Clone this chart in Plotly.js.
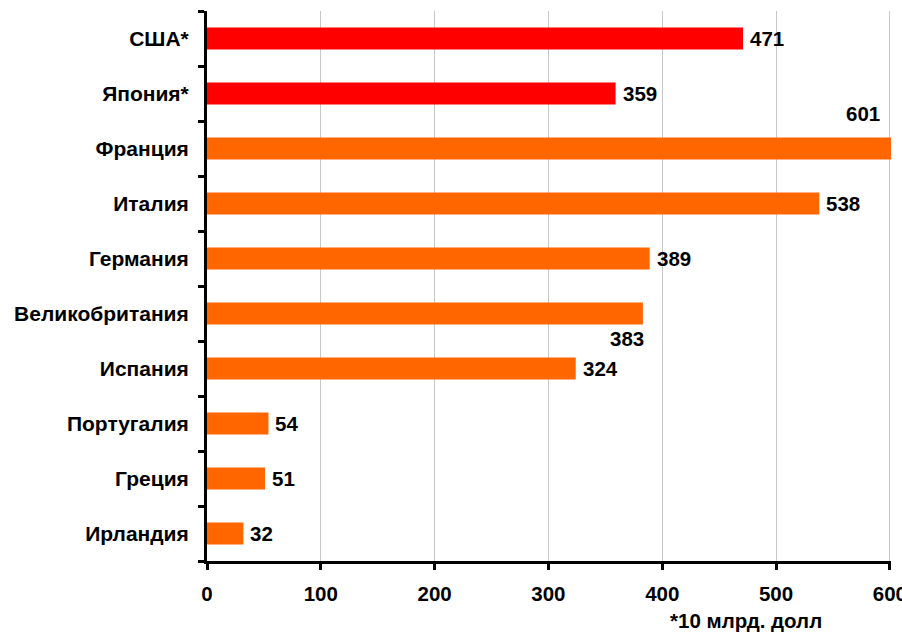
<!DOCTYPE html>
<html>
<head>
<meta charset="utf-8">
<script src="https://cdn.plot.ly/plotly-3.0.1.min.js"></script>
<style>html,body{margin:0;padding:0;background:#fff;}#chart{width:902px;height:633px;}</style>
</head>
<body>
<div id="chart"></div>
<script>
const countries = ["США*", "Япония*", "Франция", "Италия", "Германия", "Великобритания", "Испания", "Португалия", "Греция", "Ирландия"];
const values = [471, 359, 601, 538, 389, 383, 324, 54, 51, 32];
const barColors = ["#FF0000", "#FF0000", "#FF6600", "#FF6600", "#FF6600", "#FF6600", "#FF6600", "#FF6600", "#FF6600", "#FF6600"];
const xTicks = [0, 100, 200, 300, 400, 500, 600];
const footnote = "*10 млрд. долл";

const FONT = "Liberation Sans, Arial, sans-serif";
const NUMSIZE = 20.5;

const annotations = countries.map((c, i) => {
  const a = {
    x: values[i], y: c, xref: "x", yref: "y",
    text: "<b>" + values[i] + "</b>", showarrow: false,
    font: {family: FONT, size: NUMSIZE, color: "#000"},
    xanchor: "left", yanchor: "middle", xshift: 5
  };
  if (c === "Франция") { a.xanchor = "right"; a.xshift = -9; a.yshift = 35; }
  if (c === "Великобритания") { a.xanchor = "right"; a.xshift = 3; a.yshift = -25; }
  return a;
});
annotations.push({
  xref: "paper", yref: "paper", x: 0.788, y: -0.109,
  xanchor: "center", yanchor: "middle", showarrow: false,
  text: "<b>" + footnote + "</b>",
  font: {family: FONT, size: NUMSIZE, color: "#000"}
});

Plotly.newPlot("chart", [{
  type: "bar", orientation: "h",
  x: values, y: countries,
  marker: {color: barColors},
  hoverinfo: "none"
}], {
  width: 902, height: 633,
  margin: {l: 207, r: 11, t: 11, b: 72},
  paper_bgcolor: "#fff", plot_bgcolor: "#fff",
  bargap: 0.6,
  showlegend: false,
  font: {family: FONT, size: 19, color: "#000"},
  xaxis: {
    range: [0, 601], tickvals: xTicks, ticktext: xTicks.map(v => "<b>" + v + "</b>"),
    showgrid: true, gridcolor: "#c8c8c8", gridwidth: 1,
    showline: true, linecolor: "#000", linewidth: 3,
    ticks: "outside", ticklen: 6, tickwidth: 3, tickcolor: "#000",
    ticklabelstandoff: 6, ticklabeloverflow: "allow",
    zeroline: false, fixedrange: true,
    tickfont: {family: FONT, size: NUMSIZE, color: "#000"}
  },
  yaxis: {
    autorange: "reversed", type: "category",
    tickson: "boundaries",
    tickvals: countries, ticktext: countries.map(c => "<b>" + c + "</b>"),
    showgrid: false, showline: true, linecolor: "#000", linewidth: 3,
    ticks: "outside", ticklen: 6, tickwidth: 3, tickcolor: "#000",
    ticklabelstandoff: 11,
    zeroline: false, fixedrange: true,
    tickfont: {family: FONT, size: 21, color: "#000"}
  },
  annotations: annotations
}, {displayModeBar: false, staticPlot: true});
</script>
</body>
</html>
